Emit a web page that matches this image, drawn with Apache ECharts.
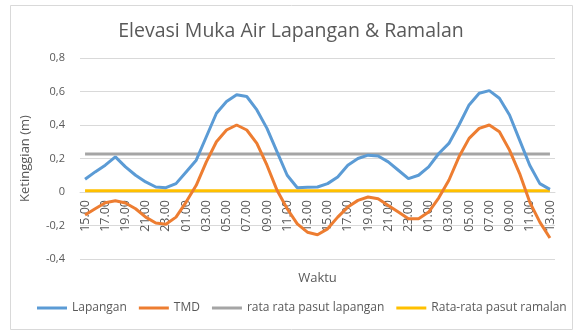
<!DOCTYPE html>
<html>
<head>
<meta charset="utf-8">
<script src="https://cdn.jsdelivr.net/npm/echarts@6/dist/echarts.min.js"></script>
<style>html,body{margin:0;padding:0;background:#fff;}#c{width:582px;height:334px;}</style>
</head>
<body>
<div id="c"></div>
<script>
var categories = ['15.00','16.00','17.00','18.00','19.00','20.00','21.00','22.00','23.00','00.00',
  '01.00','02.00','03.00','04.00','05.00','06.00','07.00','08.00','09.00','10.00','11.00','12.00','13.00','14.00',
  '15.00','16.00','17.00','18.00','19.00','20.00','21.00','22.00','23.00','00.00',
  '01.00','02.00','03.00','04.00','05.00','06.00','07.00','08.00','09.00','10.00','11.00','12.00','13.00'];
var lapangan = [0.076,0.12,0.16,0.21,0.15,0.10,0.06,0.03,0.026,0.05,
  0.12,0.19,0.33,0.47,0.54,0.58,0.57,0.49,0.38,0.24,0.10,0.025,0.028,0.03,
  0.05,0.09,0.16,0.20,0.22,0.215,0.18,0.13,0.08,0.10,
  0.15,0.23,0.29,0.40,0.52,0.59,0.605,0.56,0.46,0.31,0.16,0.05,0.016];
var tmd = [-0.137,-0.10,-0.064,-0.052,-0.066,-0.10,-0.15,-0.185,-0.193,-0.15,
  -0.06,0.04,0.18,0.30,0.37,0.40,0.37,0.29,0.16,0.01,-0.10,-0.19,-0.24,-0.255,
  -0.22,-0.15,-0.09,-0.05,-0.03,-0.04,-0.08,-0.12,-0.16,-0.16,
  -0.12,-0.035,0.07,0.21,0.32,0.38,0.40,0.36,0.25,0.11,-0.06,-0.18,-0.275];
var rataLapangan = [0.227,0.227,0.227,0.227,0.227,0.227,0.227,0.227,0.227,0.227,
  0.227,0.227,0.227,0.227,0.227,0.227,0.227,0.227,0.227,0.227,0.227,0.227,0.227,0.227,
  0.227,0.227,0.227,0.227,0.227,0.227,0.227,0.227,0.227,0.227,
  0.227,0.227,0.227,0.227,0.227,0.227,0.227,0.227,0.227,0.227,0.227,0.227,0.227];
var rataRamalan = [0.007,0.007,0.007,0.007,0.007,0.007,0.007,0.007,0.007,0.007,
  0.007,0.007,0.007,0.007,0.007,0.007,0.007,0.007,0.007,0.007,0.007,0.007,0.007,0.007,
  0.007,0.007,0.007,0.007,0.007,0.007,0.007,0.007,0.007,0.007,
  0.007,0.007,0.007,0.007,0.007,0.007,0.007,0.007,0.007,0.007,0.007,0.007,0.007];
var seriesNames = ['Lapangan','TMD','rata rata pasut lapangan','Rata-rata pasut ramalan'];
var colors = ['#5b9bd5','#ed7d31','#a5a5a5','#ffc000'];
var yTicks = {min:-0.4, max:0.8, interval:0.2};

var FONT = 'Open Sans';
var chart = echarts.init(document.getElementById('c'), null, {renderer:'canvas'});
var dataSets = [lapangan, tmd, rataLapangan, rataRamalan];
chart.setOption({
  animation: false,
  color: colors,
  textStyle: {fontFamily: FONT},
  title: {
    text: 'Elevasi Muka Air Lapangan & Ramalan',
    left: 'center', top: 16,
    textStyle: {fontFamily: FONT, fontSize: 19.5, fontWeight: 'normal', color: '#595959'}
  },
  graphic: [{
    type: 'rect', left: 8, top: 3, shape: {width: 562, height: 324},
    style: {fill: 'none', stroke: '#d9d9d9', lineWidth: 1}, silent: true
  }],
  legend: {
    top: 297, left: 32,
    icon: 'rect', itemWidth: 30, itemHeight: 3, itemGap: 12,
    textStyle: {fontFamily: FONT, fontSize: 12, color: '#595959'},
    data: seriesNames
  },
  grid: {left: 80, right: 27, top: 58, bottom: 75, containLabel: false, outerBoundsMode: 'none'},
  xAxis: {
    type: 'category', data: categories, boundaryGap: true,
    position: 'bottom', offset: -67,
    name: 'Waktu', nameLocation: 'middle', nameGap: 80,
    nameTextStyle: {fontFamily: FONT, fontSize: 13, color: '#595959'},
    axisLine: {show: true, onZero: false, lineStyle: {color: '#d9d9d9'}},
    axisTick: {show: false},
    axisLabel: {interval: 1, rotate: 90, fontSize: 12.5, color: '#595959', fontFamily: FONT, margin: 8}
  },
  yAxis: {
    type: 'value', min: yTicks.min, max: yTicks.max, interval: yTicks.interval,
    name: 'Ketinggian (m)', nameLocation: 'middle', nameGap: 48,
    nameTextStyle: {fontFamily: FONT, fontSize: 13, color: '#595959'},
    axisLine: {show: false}, axisTick: {show: false},
    splitLine: {lineStyle: {color: '#d9d9d9'}},
    axisLabel: {
      fontSize: 11, color: '#595959', fontFamily: FONT, margin: 15,
      formatter: function (v) { var r = Math.round(v * 10) / 10; return r === 0 ? '0' : r.toFixed(1).replace('.', ','); }
    }
  },
  series: seriesNames.map(function (n, i) {
    return {name: n, type: 'line', data: dataSets[i], showSymbol: false, symbol: 'none',
      lineStyle: {width: 3, color: colors[i]}, itemStyle: {color: colors[i]}, z: i < 2 ? 3 : 2};
  })
});
</script>
</body>
</html>
